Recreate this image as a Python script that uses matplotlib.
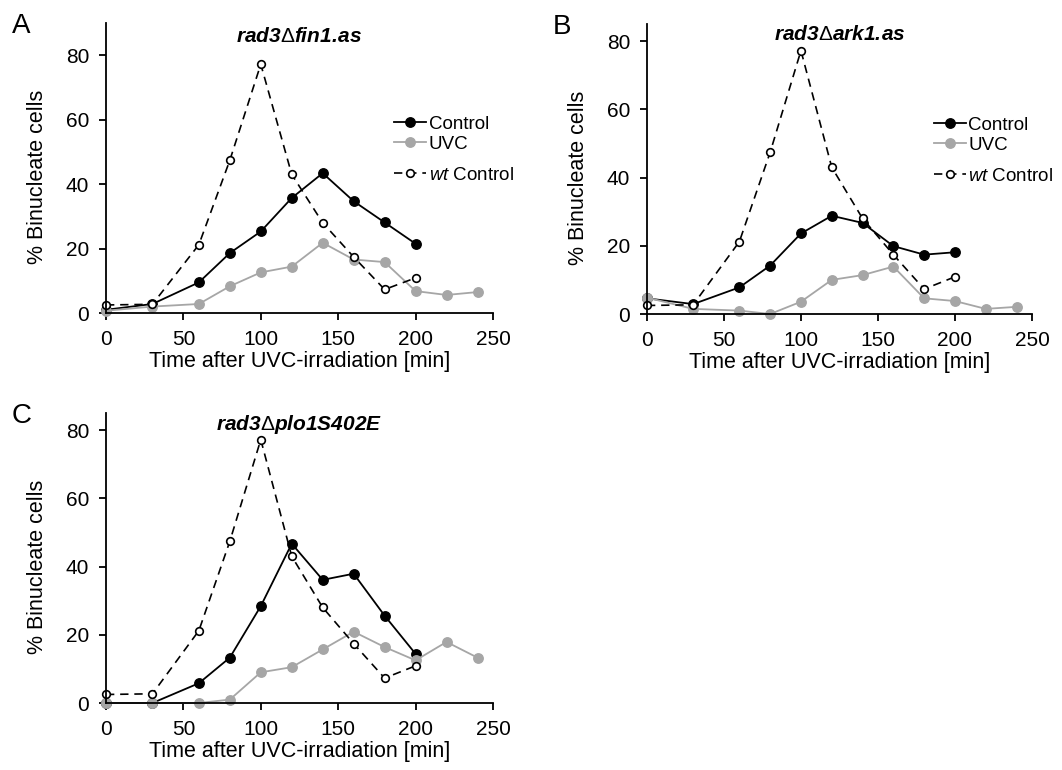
import numpy as np
import matplotlib
matplotlib.use("Agg")
import matplotlib.pyplot as plt

plt.rcParams['font.family'] = ['Liberation Sans', 'DejaVu Sans']
plt.rcParams['mathtext.fontset'] = 'custom'
plt.rcParams['mathtext.it'] = 'Liberation Sans:italic'
plt.rcParams['mathtext.rm'] = 'Liberation Sans'
plt.rcParams['mathtext.bfit'] = 'Liberation Sans:italic:bold'

# time points [min]
t_ctrl = [0, 30, 60, 80, 100, 120, 140, 160, 180, 200]
t_uvc = [0, 30, 60, 80, 100, 120, 140, 160, 180, 200, 220, 240]

# wt control, same in every panel
wt_ctrl = [2.5, 2.7, 21.2, 47.4, 77.2, 43.0, 28.0, 17.4, 7.3, 10.9]

# A: rad3 fin1.as
a_ctrl = [1.0, 2.8, 9.5, 18.6, 25.3, 35.7, 43.4, 34.7, 28.1, 21.5]
a_uvc = [0.7, 2.0, 2.8, 8.3, 12.6, 14.4, 21.8, 16.6, 15.8, 6.8, 5.6, 6.5]

# B: rad3 ark1.as
b_ctrl = [4.6, 2.9, 7.8, 14.2, 23.6, 28.8, 26.7, 19.9, 17.4, 18.1]
b_uvc = [4.8, 1.5, 1.0, 0.0, 3.6, 10.0, 11.4, 13.9, 4.6, 3.8, 1.5, 2.1]

# C: rad3 plo1S402E
c_ctrl = [0.0, 0.0, 5.8, 13.3, 28.4, 46.7, 36.1, 37.9, 25.6, 14.4]
c_uvc = [0.0, 0.0, 0.0, 1.0, 9.0, 10.5, 15.7, 20.9, 16.4, 12.5, 17.9, 13.3]

panels = [
    ("A", r"$\mathbfit{rad3}\mathrm{\Delta}\mathbfit{fin1.\!as}$", a_ctrl, a_uvc, 90,
     [0.0998, 0.5935, 0.3644, 0.3766], True, 0.955),
    ("B", r"$\mathbfit{rad3}\mathrm{\Delta}\mathbfit{ark1.\!as}$", b_ctrl, b_uvc, 85,
     [0.6092, 0.5922, 0.3625, 0.3766], True, 0.965),
    ("C", r"$\mathbfit{rad3}\mathrm{\Delta}\mathbfit{plo1S402E}$", c_ctrl, c_uvc, 85,
     [0.0998, 0.0870, 0.3644, 0.3766], False, 0.962),
]

grey = '#a6a6a6'
fig = plt.figure(figsize=(10.62, 7.7), dpi=100)

for letter, title, ctrl, uvc, ytop, pos, show_leg, ty in panels:
    ax = fig.add_axes(pos)
    l1, = ax.plot(t_ctrl, ctrl, '-o', color='black', lw=1.3, ms=6.8, clip_on=False, label='Control')
    l2, = ax.plot(t_uvc, uvc, '-o', color=grey, lw=1.3, ms=6.8, clip_on=False, label='UVC')
    l3, = ax.plot(t_ctrl, wt_ctrl, '--o', color='black', lw=1.2, ms=5.5, mfc='white', mew=1.2,
                  dashes=(5, 3.5), clip_on=False, label=r'$\it{wt}$ Control')
    ax.set_xlim(0, 250)
    ax.set_ylim(0, ytop)
    ax.set_xticks(np.arange(0, 251, 50))
    ax.set_yticks([0, 20, 40, 60, 80])
    for s in ['top', 'right']:
        ax.spines[s].set_visible(False)
    for s in ['left', 'bottom']:
        ax.spines[s].set_linewidth(1.3)
    ax.tick_params(labelsize=15, width=1.3, length=5, pad=7)
    ax.set_xlabel('Time after UVC-irradiation [min]', fontsize=15.5, labelpad=2)
    ax.set_ylabel('% Binucleate cells', fontsize=15.5)
    ax.yaxis.set_label_coords(-0.15, 0.47)
    ax.text(0.5, ty, title, transform=ax.transAxes, ha='center', va='center', fontsize=15)
    fig.text(pos[0] - 0.089, pos[1] + pos[3] + 0.013, letter, fontsize=20, va='top', ha='left')
    if show_leg:
        leg1 = ax.legend(handles=[l1, l2], loc='upper left', bbox_to_anchor=(0.745, 0.68),
                         frameon=False, fontsize=13.5, handlelength=1.7, handletextpad=0.15,
                         labelspacing=0.15, borderpad=0, borderaxespad=0)
        ax.add_artist(leg1)
        ax.legend(handles=[l3], loc='upper left', bbox_to_anchor=(0.745, 0.505),
                  frameon=False, fontsize=13.5, handlelength=1.7, handletextpad=0.15,
                  borderpad=0, borderaxespad=0)

fig.savefig('out.png', dpi=100)
